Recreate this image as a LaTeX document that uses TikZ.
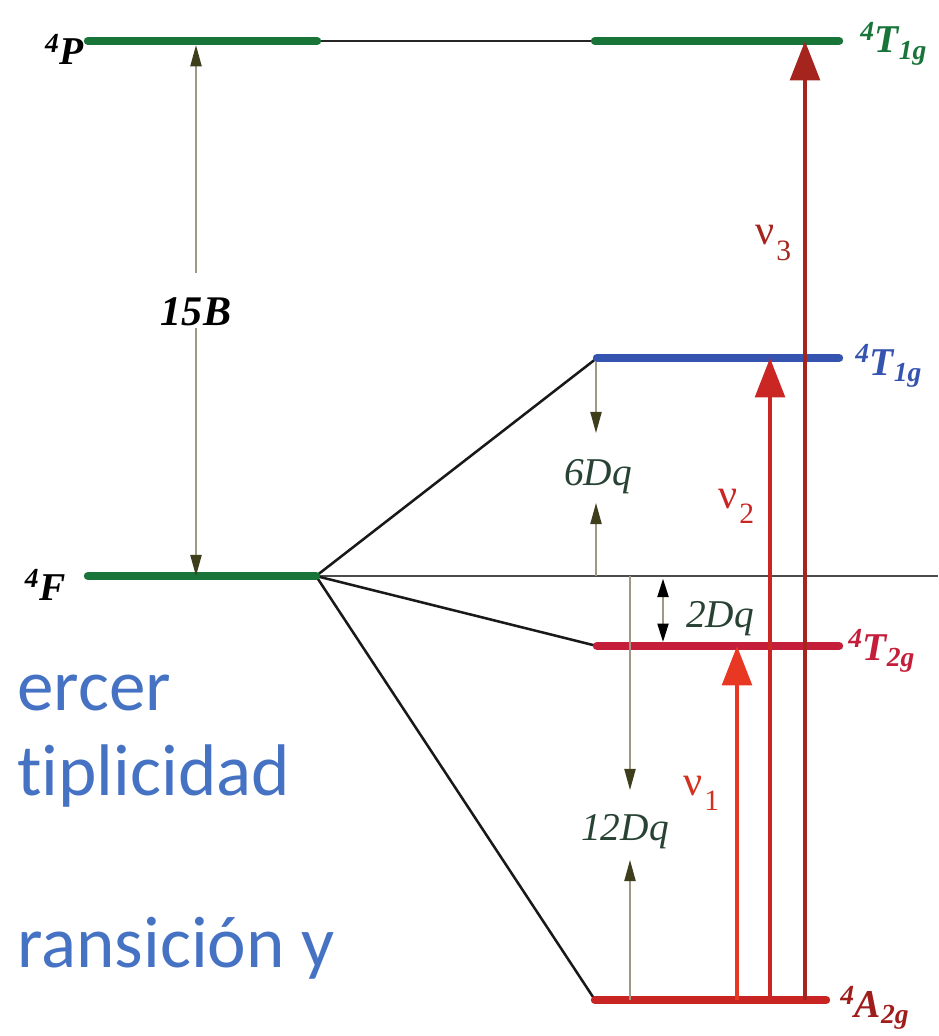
\documentclass[tikz,border=0pt]{standalone}
\usepackage{fontspec}
\setmainfont{Liberation Serif}
\newfontfamily\slidefont[Ligatures=NoCommon,RawFeature=-liga]{Carlito}
\usepackage{tikz}
\usetikzlibrary{arrows.meta}
\usepackage{xcolor}
\definecolor{lvlgreen}{RGB}{24,116,56}
\definecolor{lvlblue}{RGB}{52,84,176}
\definecolor{lvlcrimson}{RGB}{196,30,58}
\definecolor{lvlred}{RGB}{200,36,36}
\definecolor{nuone}{RGB}{232,56,36}
\definecolor{nutwo}{RGB}{202,38,36}
\definecolor{nuthree}{RGB}{166,36,30}
\definecolor{gapgray}{RGB}{160,152,132}
\definecolor{tipolive}{RGB}{62,62,28}
\definecolor{dqgreen}{RGB}{40,66,52}
\definecolor{slideblue}{RGB}{70,114,196}
\newcommand{\freq}[1]{ν\kern1.5pt\raisebox{-11pt}{\fontsize{21}{21}\selectfont #1}}

\begin{document}
\begin{tikzpicture}[x=0.025cm,y=-0.025cm,
  lvl/.style={line width=6pt,line cap=round},
  corr/.style={line width=1.8pt,black!90},
  dim/.style={draw=gapgray,line width=1pt,-{Triangle[length=15pt,width=8pt,color=tipolive]}},
  dimboth/.style={draw=gapgray,line width=1pt,{Triangle[length=13pt,width=8pt,color=black]}-{Triangle[length=13pt,width=8pt,color=black]}},
  nu/.style={line width=3pt,-{Triangle[length=28pt,width=21pt]}},
  term/.style={font=\fontsize{28}{30}\selectfont\bfseries\itshape,inner sep=0pt},
  dq/.style={font=\fontsize{28}{30}\selectfont\itshape,text=dqgreen,inner sep=0pt,anchor=base},
  freqlbl/.style={font=\fontsize{30}{32}\selectfont,inner sep=0pt,anchor=base west},
  slide/.style={font=\slidefont\fontsize{52}{60}\selectfont,text=slideblue,inner sep=0pt,anchor=base west}]
\useasboundingbox (0,0) rectangle (938,1036);

\coordinate (P-a) at (88,41);   \coordinate (P-b) at (317,41);
\coordinate (Tt-a) at (595,41); \coordinate (Tt-b) at (839,41);
\coordinate (F-a) at (88,576);  \coordinate (F-b) at (316,576);
\coordinate (Tb-a) at (597,358); \coordinate (Tb-b) at (839,358);
\coordinate (T2-a) at (597,646); \coordinate (T2-b) at (839,646);
\coordinate (A2-a) at (595,1000); \coordinate (A2-b) at (826,1000);
\coordinate (F-end) at (938,576);

\draw[black!85,line width=1.2pt] (P-b) -- (Tt-a);
\draw[black!70,line width=0.9pt] (F-b) -- (F-end);
\draw[corr] (F-b) -- (Tb-a);
\draw[corr] (F-b) -- (T2-a);
\draw[corr] (F-b) -- (A2-a);

\draw[lvl,lvlgreen] (P-a) -- (P-b);
\draw[lvl,lvlgreen] (Tt-a) -- (Tt-b);
\draw[lvl,lvlgreen] (F-a) -- (F-b);
\draw[lvl,lvlblue] (Tb-a) -- (Tb-b);
\draw[lvl,lvlcrimson] (T2-a) -- (T2-b);
\draw[lvl,lvlred] (A2-a) -- (A2-b);

\node[term,font=\fontsize{30}{32}\selectfont\bfseries\itshape,anchor=base] (b15) at (196,325) {15B};
\coordinate (b15-up) at (196,273); \coordinate (b15-dn) at (196,328);
\draw[dim,shorten >=3pt] (b15-up) -- (b15-up |- P-a);
\draw[dim] (b15-dn) -- (b15-dn |- F-a);

\node[dq] (d6) at (598,485) {6Dq};
\coordinate (d6-up) at (596,433); \coordinate (d6-dn) at (596,503);
\draw[dim,shorten <=3pt] (d6-up |- Tb-a) -- (d6-up);
\draw[dim] (d6-dn |- F-a) -- (d6-dn);

\node[dq] (d2) at (720,627) {2Dq};
\coordinate (d2x) at (663,610);
\draw[dimboth,shorten <=2pt,shorten >=3pt] (d2x |- F-a) -- (d2x |- T2-a);

\node[dq] (d12) at (625,840) {12Dq};
\coordinate (d12-up) at (630,790); \coordinate (d12-dn) at (630,860);
\draw[dim] (d12-up |- F-a) -- (d12-up);
\draw[dim] (d12-dn |- A2-a) -- (d12-dn);

\coordinate (v1) at (737,1000); \coordinate (v2) at (770,1000); \coordinate (v3) at (805,1000);
\draw[nu,nuone] (v1) -- (v1 |- T2-a);
\draw[nu,nutwo] (v2) -- (v2 |- Tb-a);
\draw[nu,nuthree] (v3) -- (v3 |- Tt-a);

\node[freqlbl,text=nuone!90!black] (f1) at (683,795) {\freq{1}};
\node[freqlbl,text=nutwo] (f2) at (718,508) {\freq{2}};
\node[freqlbl,text=nuthree] (f3) at (755,245) {\freq{3}};

\node[term,anchor=base east] (lP) at (84,65) {\textsuperscript{4}P};
\node[term,anchor=base east] (lF) at (66,600) {\textsuperscript{4}F};
\node[term,anchor=base west,text=lvlgreen] (lTt) at (860,53) {\textsuperscript{4}T\textsubscript{1g}};
\node[term,anchor=base west,text=lvlblue] (lTb) at (855,375) {\textsuperscript{4}T\textsubscript{1g}};
\node[term,anchor=base west,text=lvlcrimson] (lT2) at (848,660) {\textsuperscript{4}T\textsubscript{2g}};
\node[term,anchor=base west,text=lvlred!80!black] (lA2) at (840,1017) {\textsuperscript{4}A\textsubscript{2g}};

\node[slide] (s1) at (17,710) {ercer};
\node[slide] (s2) at (17,795) {tiplicidad};
\node[slide] (s3) at (17,967) {ransición y};
\end{tikzpicture}
\end{document}
